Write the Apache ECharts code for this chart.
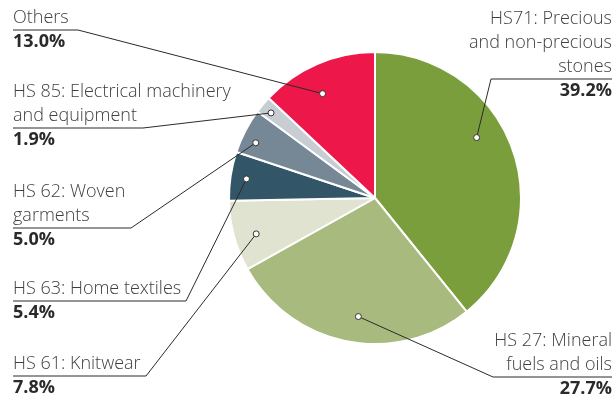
<!DOCTYPE html>
<html>
<head>
<meta charset="utf-8">
<script src="https://cdn.jsdelivr.net/npm/echarts@6/dist/echarts.min.js"></script>
<style>
  html, body { margin: 0; padding: 0; background: #fff; }
  #chart { width: 615px; height: 396px; }
</style>
</head>
<body>
<div id="chart"></div>
<script>
// Export shares by product group (%), clockwise from 12 o'clock
const categories = [
  'HS71: Precious\nand non-precious\nstones',
  'HS 27: Mineral\nfuels and oils',
  'HS 61: Knitwear',
  'HS 63: Home textiles',
  'HS 62: Woven\ngarments',
  'HS 85: Electrical machinery\nand equipment',
  'Others'
];
const shares = [39.2, 27.7, 7.8, 5.4, 5.0, 1.9, 13.0];
const colors = ['#7a9e3c', '#a9ba7e', '#dfe3cf', '#325668', '#768896', '#c8cdd4', '#ee1749'];

// Pie geometry
const CX = 375, CY = 198, R = 146;

// Callout placement: text side, anchor x, underline y, elbow x,
// where the dot sits within its slice (angular fraction) and how far out (radius fraction)
const callouts = [
  { side: 'right', x: 612, lineY: 79,  elbowX: 491, frac: 0.42, rad: 0.81 },
  { side: 'right', x: 612, lineY: 377, elbowX: 493, frac: 0.47, rad: 0.82 },
  { side: 'left',  x: 13,  lineY: 376, elbowX: 146, frac: 0.44, rad: 0.85 },
  { side: 'left',  x: 13,  lineY: 301, elbowX: 186, frac: 0.49, rad: 0.89 },
  { side: 'left',  x: 13,  lineY: 228, elbowX: 131, frac: 0.36, rad: 0.90 },
  { side: 'left',  x: 13,  lineY: 128, elbowX: 143, frac: 0.43, rad: 0.92 },
  { side: 'left',  x: 13,  lineY: 30,  elbowX: 78,  frac: 0.43, rad: 0.80 }
];

const FONT = '"Open Sans", Lato, sans-serif';
const total = shares.reduce((a, b) => a + b, 0);
const graphics = [];
let cum = 0;
shares.forEach((v, i) => {
  const c = callouts[i];
  const a0 = cum / total * 2 * Math.PI;
  const a1 = (cum + v) / total * 2 * Math.PI;
  cum += v;
  const ang = a0 + (a1 - a0) * c.frac;
  const dx = CX + R * c.rad * Math.sin(ang);
  const dy = CY - R * c.rad * Math.cos(ang);

  // leader: underline under the text, then a straight run to the dot
  graphics.push({
    type: 'polyline', z: 10, silent: true,
    shape: { points: [[c.x, c.lineY], [c.elbowX, c.lineY], [dx, dy]] },
    style: { stroke: '#2a2a2a', lineWidth: 1, fill: null }
  });
  graphics.push({
    type: 'circle', z: 11, silent: true,
    shape: { cx: dx, cy: dy, r: 3 },
    style: { fill: '#fff', stroke: '#333', lineWidth: 1 }
  });

  const lines = categories[i].split('\n');
  lines.forEach((t, k) => {
    graphics.push({
      type: 'text', z: 10, silent: true,
      style: {
        text: t, x: c.x, y: c.lineY - 12 - (lines.length - 1 - k) * 24,
        fill: '#404040', fontSize: 18, fontFamily: FONT, fontWeight: 300,
        align: c.side === 'right' ? 'right' : 'left', verticalAlign: 'middle'
      }
    });
  });
  graphics.push({
    type: 'text', z: 10, silent: true,
    style: {
      text: v.toFixed(1) + '%', x: c.x, y: c.lineY + 12,
      fill: '#2a2a2a', fontSize: 18, fontFamily: FONT, fontWeight: 'bold',
      align: c.side === 'right' ? 'right' : 'left', verticalAlign: 'middle'
    }
  });
});

const chart = echarts.init(document.getElementById('chart'), null, { renderer: 'canvas' });
chart.setOption({
  animation: false,
  backgroundColor: '#fff',
  series: [{
    type: 'pie',
    center: [CX, CY],
    radius: [0, R],
    startAngle: 90,
    clockwise: true,
    silent: true,
    label: { show: false },
    labelLine: { show: false },
    itemStyle: { borderColor: '#fff', borderWidth: 2 },
    data: shares.map((v, i) => ({
      name: categories[i],
      value: v,
      itemStyle: { color: colors[i] }
    }))
  }],
  graphic: graphics
});
</script>
</body>
</html>
